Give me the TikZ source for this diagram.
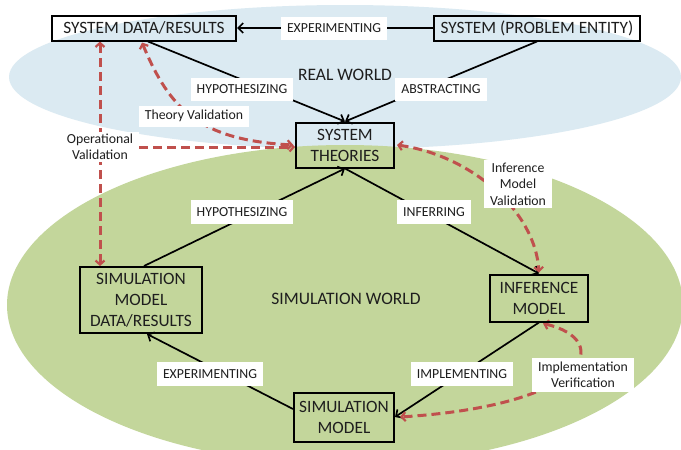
\documentclass[tikz,border=0pt]{standalone}
\usepackage{fontspec}
\setmainfont{Carlito}
\usetikzlibrary{arrows.meta,calc}
\definecolor{skyblue}{RGB}{219,234,242}
\definecolor{leafgreen}{RGB}{195,214,155}
\definecolor{dashred}{RGB}{192,80,77}
\definecolor{inkgray}{RGB}{30,30,30}
\pgfdeclarelayer{bg}
\pgfdeclarelayer{wires}
\pgfsetlayers{bg,wires,main}
\begin{document}
\begin{tikzpicture}[x=1pt,y=-1pt,
  box/.style={draw=black,line width=2pt,align=center,text=inkgray,
    font=\fontsize{17.3}{21}\selectfont,inner sep=0pt},
  lbl/.style={fill=white,align=center,text=inkgray,
    font=\fontsize{13.8}{16.5}\selectfont,inner xsep=6pt,inner ysep=3pt,minimum height=23pt},
  world/.style={text=inkgray,font=\fontsize{17.5}{20}\selectfont},
  flow/.style={draw=black,line width=1.7pt,-{Straight Barb[length=5pt,width=10pt,line width=1.7pt]}},
  check/.style={draw=dashred,line width=3pt,dash pattern=on 9pt off 5pt,
    {Straight Barb[length=4pt,width=9pt,line width=2.2pt]}-{Straight Barb[length=4pt,width=9pt,line width=2.2pt]}},
  checkone/.style={draw=dashred,line width=3pt,dash pattern=on 9pt off 5pt,
    -{Straight Barb[length=4pt,width=9pt,line width=2.2pt]}}]
\useasboundingbox (0,0) rectangle (681,450);
\begin{pgfonlayer}{bg}
  \fill[white] (0,0) rectangle (681,450);
  \fill[skyblue] (345,77) ellipse [x radius=336pt, y radius=72pt];
  \fill[leafgreen] (345,305) ellipse [x radius=338pt, y radius=160pt];
\end{pgfonlayer}

% main boxes
\node[box,minimum width=184pt,minimum height=25pt] (sdr) at (144,28) {SYSTEM DATA/RESULTS};
\node[box,minimum width=206pt,minimum height=25pt] (spe) at (537,28) {SYSTEM (PROBLEM ENTITY)};
\node[box,minimum width=98pt,minimum height=45pt] (st) at (345,145) {SYSTEM\\THEORIES};
\node[box,minimum width=122pt,minimum height=66pt] (smdr) at (141,300) {SIMULATION\\MODEL\\DATA/RESULTS};
\node[box,minimum width=98pt,minimum height=47pt] (im) at (539,298) {INFERENCE\\MODEL};
\node[box,minimum width=100pt,minimum height=49pt] (sm) at (344,417) {SIMULATION\\MODEL};

% world titles
\node[world] (rw) at (345,75) {REAL WORLD};
\node[world] (sw) at (346,299) {SIMULATION WORLD};

% labels
\node[lbl] (lexp1) at (334,28) {EXPERIMENTING};
\node[lbl] (lhyp1) at (242,89) {HYPOTHESIZING};
\node[lbl] (labs) at (441,89) {ABSTRACTING};
\node[lbl,minimum height=21pt] (ltv) at (194,116) {Theory Validation};
\node[lbl,minimum height=0pt,inner ysep=2pt] (opv) at (100,147) {Operational\\Validation};
\node[lbl,minimum height=0pt,inner ysep=3pt] (imv) at (518,184) {Inference\\Model\\Validation};
\node[lbl,minimum height=24pt] (lhyp2) at (242,212) {HYPOTHESIZING};
\node[lbl,minimum height=24pt] (linf) at (434,212) {INFERRING};
\node[lbl,minimum height=24pt] (lexp2) at (210,374) {EXPERIMENTING};
\node[lbl,minimum height=24pt] (limp) at (462,374) {IMPLEMENTING};
\node[lbl,minimum height=0pt,inner ysep=4pt] (ivr) at (583,375) {Implementation\\Verification};

\begin{pgfonlayer}{wires}
  % black process arrows
  \draw[flow] (spe.west) -- (sdr.east);
  \draw[flow] ($(sdr.south)+(4,0)$) -- (st.north);
  \draw[flow] (spe.south) -- (st.north);
  \draw[flow] ($(smdr.north)+(3,0)$) -- (st.south);
  \draw[flow] (st.south) -- (im.north);
  \draw[flow] (im.south) -- (sm.east);
  \draw[flow] ($(sm.west)+(0,-8)$) -- ($(smdr.south)+(6,0)$);
  % red validation arrows
  \draw[check] (sdr.south -| opv) -- (smdr.north -| opv);
  \draw[checkone] (opv.east) -- (opv.east -| st.west);
  \draw[check] ($(sdr.south)+(-2,1)$) .. controls (170,110) and (200,140) .. ($(st.west)+(-2,0)$);
  \draw[check] ($(st.east)+(2,0)$) .. controls (470,155) and (535,210) .. ($(im.north)+(0,-1)$);
  \draw[check] ($(im.south)+(4,1)$) .. controls (615,340) and (590,405) .. ($(sm.east)+(5,0)$);
\end{pgfonlayer}
\end{tikzpicture}
\end{document}
